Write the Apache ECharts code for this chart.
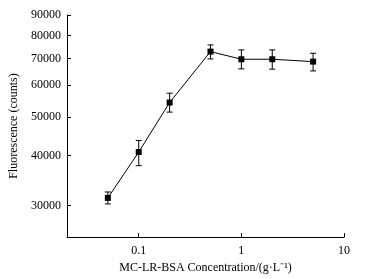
<!DOCTYPE html>
<html>
<head>
<meta charset="utf-8">
<script src="https://cdn.jsdelivr.net/npm/echarts@6/dist/echarts.min.js"></script>
<style>
  html, body { margin: 0; padding: 0; background: #fff; }
  #chart { width: 369px; height: 279px; }
</style>
</head>
<body>
<div id="chart"></div>
<script>
// MC-LR-BSA concentration (g/L) vs fluorescence, log-log
const concentrations = [0.05, 0.1, 0.2, 0.5, 1, 2, 5];
const fluorescence = [31340, 40830, 54330, 72870, 69730, 69730, 68780];
const errUpper = [32430, 43650, 57340, 75730, 73590, 73590, 72180];
const errLower = [30270, 37750, 51410, 69860, 65950, 65850, 65190];
const xTicks = [0.1, 1, 10];
const yTicks = [30000, 40000, 50000, 60000, 70000, 80000, 90000];

const chart = echarts.init(document.getElementById('chart'));
const font = 'Liberation Serif';

const lineData = concentrations.map((x, i) => [x, fluorescence[i]]);
const errData = concentrations.map((x, i) => [x, errLower[i], errUpper[i]]);

const axisLine = { show: true, lineStyle: { color: '#000', width: 1 } };

const option = {
  animation: false,
  grid: { left: 67, right: 25, top: 15, bottom: 41 },
  xAxis: {
    type: 'log',
    logBase: 10,
    min: 0.02,
    max: 10,
    name: 'MC-LR-BSA Concentration/(g·L⁻¹)',
    nameLocation: 'middle',
    nameGap: 24,
    nameTextStyle: { fontFamily: font, fontSize: 12, color: '#000' },
    axisLine: axisLine,
    axisTick: { show: true, inside: true, length: 4, customValues: xTicks, lineStyle: { color: '#000' } },
    axisLabel: {
      customValues: xTicks,
      fontFamily: font, fontSize: 12, color: '#000', margin: 8,
      formatter: (v) => String(v)
    },
    minorTick: { show: false },
    splitLine: { show: false }
  },
  yAxis: {
    type: 'log',
    logBase: 10,
    min: 25000,
    max: 90000,
    name: 'Fluorescence (counts)',
    nameLocation: 'middle',
    nameGap: 46,
    nameTextStyle: { fontFamily: font, fontSize: 12, color: '#000' },
    axisLine: axisLine,
    axisTick: { show: true, inside: true, length: 4, customValues: yTicks, lineStyle: { color: '#000' } },
    axisLabel: {
      customValues: yTicks,
      fontFamily: font, fontSize: 12, color: '#000', margin: 6,
      formatter: (v) => String(Math.round(v))
    },
    splitLine: { show: false }
  },
  series: [
    {
      type: 'custom',
      z: 3,
      data: errData,
      renderItem: (params, api) => {
        const x = api.value(0);
        const lo = api.coord([x, api.value(1)]);
        const hi = api.coord([x, api.value(2)]);
        const cap = 3;
        const style = { stroke: '#000', lineWidth: 1 };
        return {
          type: 'group',
          children: [
            { type: 'line', shape: { x1: lo[0], y1: lo[1], x2: hi[0], y2: hi[1] }, style },
            { type: 'line', shape: { x1: hi[0] - cap, y1: hi[1], x2: hi[0] + cap, y2: hi[1] }, style },
            { type: 'line', shape: { x1: lo[0] - cap, y1: lo[1], x2: lo[0] + cap, y2: lo[1] }, style }
          ]
        };
      }
    },
    {
      type: 'line',
      z: 4,
      data: lineData,
      symbol: 'rect',
      symbolSize: 6,
      itemStyle: { color: '#000' },
      lineStyle: { color: '#000', width: 1 }
    }
  ]
};

chart.setOption(option);
</script>
</body>
</html>
